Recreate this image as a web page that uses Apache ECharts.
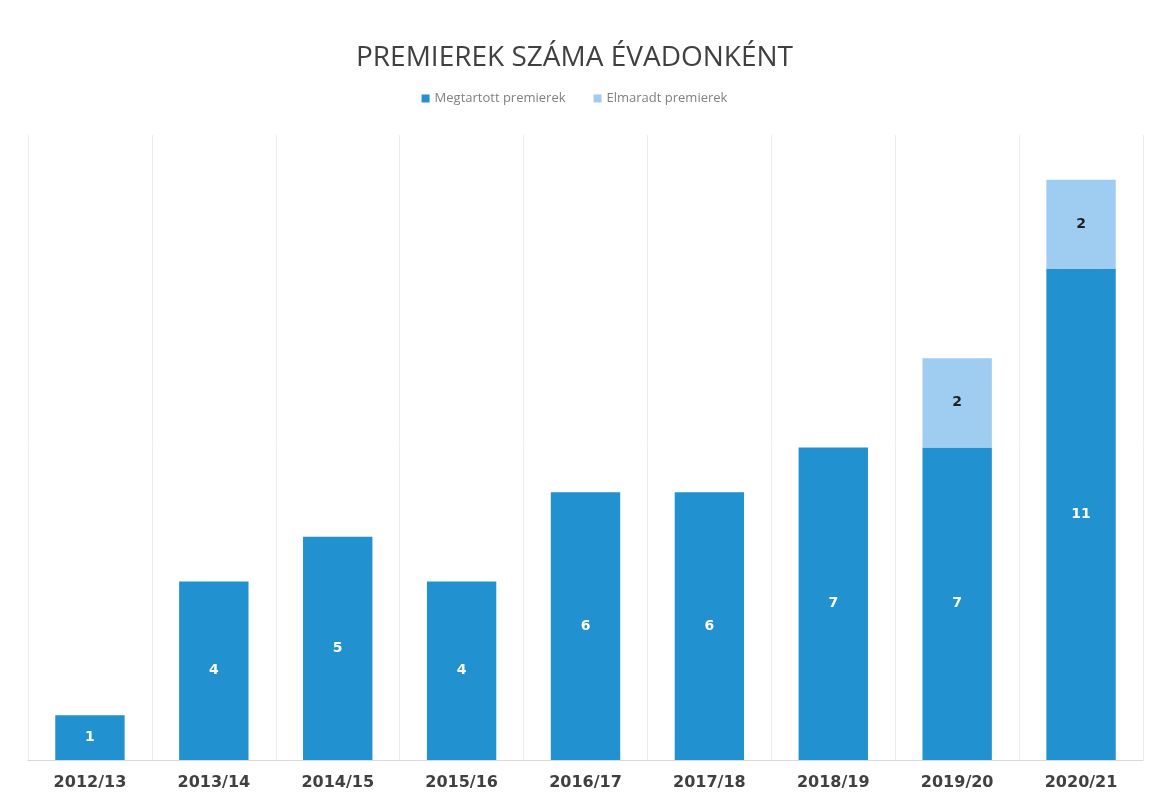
<!DOCTYPE html>
<html><head><meta charset="utf-8">
<script src="https://cdn.jsdelivr.net/npm/echarts@6/dist/echarts.min.js"></script>
<style>html,body{margin:0;padding:0;background:#fff}#c{width:1149px;height:805px}</style>
</head><body><div id="c"></div>
<script>
const categories = ['2012/13','2013/14','2014/15','2015/16','2016/17','2017/18','2018/19','2019/20','2020/21'];
const megtartott = [1,4,5,4,6,6,7,7,11];
const elmaradt = [null,null,null,null,null,null,null,2,2];
const seriesNames = ['Megtartott premierek','Elmaradt premierek'];
const titleText = 'PREMIEREK SZÁMA ÉVADONKÉNT';

const chart = echarts.init(document.getElementById('c'));
chart.setOption({
  backgroundColor:'#fff',
  animation:false,
  title:{text:titleText,left:'center',top:39,
    textStyle:{fontFamily:'Open Sans',fontWeight:'normal',fontSize:28,color:'#404040'}},
  legend:{top:87,left:'center',itemWidth:8,itemHeight:8,itemGap:28,icon:'rect',
    textStyle:{fontFamily:'Open Sans',fontSize:13,color:'#808080'}},
  grid:{left:28,right:6,top:135,bottom:45},
  xAxis:{type:'category',data:categories,
    axisLine:{lineStyle:{color:'#d9d9d9'}},axisTick:{show:false},
    splitLine:{show:true,lineStyle:{color:'#ececec'}},
    axisLabel:{fontFamily:'DejaVu Sans',fontWeight:'bold',fontSize:16,color:'#404040',margin:15}},
  yAxis:{type:'value',min:0,max:14,show:false,splitLine:{show:false}},
  series:[
    {name:seriesNames[0],type:'bar',stack:'t',data:megtartott,barWidth:'56%',
      itemStyle:{color:'#2191cf'},
      label:{show:true,position:'inside',color:'#fff',fontWeight:'bold',fontSize:14,fontFamily:'DejaVu Sans'}},
    {name:seriesNames[1],type:'bar',stack:'t',data:elmaradt,barWidth:'56%',
      itemStyle:{color:'#9fcdf1'},
      label:{show:true,position:'inside',color:'#222',fontWeight:'bold',fontSize:14,fontFamily:'DejaVu Sans'}}
  ]
});
</script></body></html>
